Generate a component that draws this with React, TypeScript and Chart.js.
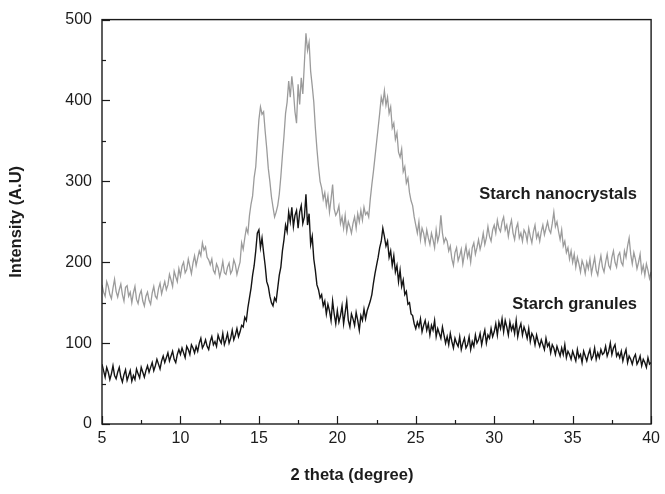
import { useEffect, useRef } from "react";
import { Chart, registerables } from "chart.js";

Chart.register(...registerables);

// 2-theta scan: start angle and step (degrees)
const twoThetaStart = 5;
const twoThetaStep = 0.1;

// Intensity of starch nanocrystals (grey trace), 5.0 .. 40.0 deg
const nanocrystals = [
  172, 163, 158, 176, 170, 160, 155, 168, 179, 164,
  157, 166, 173, 160, 152, 169, 171, 158, 163, 150,
  162, 170, 154, 149, 160, 165, 152, 146, 158, 163,
  153, 148, 162, 170, 158, 155, 167, 174, 161, 169,
  176, 166, 172, 185, 178, 170, 189, 182, 176, 192,
  183, 195, 200, 187, 191, 204, 195, 186, 199, 208,
  196, 205, 214, 208, 224, 215, 219, 206, 203, 197,
  204, 190, 186, 198, 193, 182, 190, 201, 187, 185,
  194, 199, 186, 190, 203, 197, 185, 193, 200, 224,
  216, 230, 242, 236, 258, 272, 282, 305, 318, 348,
  376, 392, 383, 386, 362, 341, 316, 300, 281, 268,
  256, 262, 270, 284, 306, 332, 356, 384, 398, 424,
  404, 430, 412, 386, 372, 420, 395, 428, 408, 446,
  483, 462, 472, 436, 418, 398, 366, 340, 318, 300,
  292, 278, 286, 270, 282, 262, 278, 296, 266, 258,
  262, 270, 248, 256, 242, 258, 238, 250, 244, 236,
  248, 256, 242, 260, 250, 264, 252, 268, 259, 262,
  256, 278, 296, 312, 330, 348, 366, 384, 404, 396,
  412, 394, 404, 384, 392, 366, 372, 352, 360, 336,
  330, 340, 312, 318, 298, 304, 286, 276, 270, 256,
  246, 236, 250, 228, 242, 236, 224, 240, 230, 222,
  236, 228, 218, 240, 226, 234, 258, 236, 224, 230,
  226, 214, 220, 204, 196, 212, 218, 202, 208, 216,
  198, 210, 220, 206, 214, 200, 218, 224, 210, 218,
  228, 216, 224, 236, 222, 230, 244, 232, 226, 240,
  246, 236, 252, 242, 238, 250, 256, 240, 246, 232,
  244, 252, 236, 228, 242, 248, 230, 236, 226, 240,
  236, 226, 242, 232, 224, 238, 246, 230, 236, 226,
  238, 246, 234, 242, 250, 240, 236, 248, 262, 244,
  250, 238, 228, 240, 220, 226, 212, 218, 204, 214,
  200, 210, 194, 206, 198, 188, 202, 196, 186, 200,
  192, 204, 186, 196, 206, 190, 184, 198, 208, 194,
  188, 200, 210, 196, 192, 206, 214, 200, 194, 208,
  212, 200, 196, 214, 206, 220, 230, 210, 198, 212,
  204, 192, 200, 210, 188, 196, 184, 198, 190, 180,
  188,
];

// Intensity of starch granules (black trace), 5.0 .. 40.0 deg
const granules = [
  74, 66, 58, 70, 64, 55, 62, 72, 60, 56,
  64, 70, 58, 52, 61, 67, 54, 60, 66, 53,
  60, 55, 68, 62, 57, 70, 64, 58, 66, 72,
  64, 70, 76, 66, 72, 80, 74, 68, 78, 84,
  76, 82, 88, 78, 84, 90, 80, 76, 86, 92,
  86, 94, 88, 82, 96, 92, 86, 98, 94, 88,
  96, 90, 100, 106, 94, 98, 104, 96, 92, 102,
  108, 98, 102, 96, 110, 104, 100, 112, 98, 104,
  112, 100, 106, 116, 104, 110, 118, 108, 114, 122,
  120, 132, 128, 144, 156, 168, 184, 196, 214, 236,
  240, 218, 230, 212, 196, 176, 170, 158, 150, 146,
  156, 152, 168, 184, 194, 214, 228, 246, 238, 262,
  250, 268, 244, 258, 264, 242, 262, 270, 248, 256,
  284, 246, 260, 222, 232, 204, 190, 172, 166, 156,
  160, 146, 152, 136, 148, 140, 128, 152, 136, 124,
  140, 126, 134, 146, 124, 138, 152, 128, 120, 136,
  130, 122, 138, 128, 116, 134, 128, 142, 130, 140,
  146, 152, 160, 174, 186, 196, 206, 218, 226, 242,
  232, 220, 226, 206, 214, 196, 208, 188, 196, 176,
  190, 170, 178, 160, 164, 148, 150, 136, 134, 124,
  118, 126, 120, 130, 114, 122, 128, 116, 124, 110,
  122, 116, 128, 108, 118, 112, 106, 120, 110, 100,
  108, 98, 112, 102, 94, 106, 100, 96, 108, 92,
  100, 106, 94, 98, 108, 92, 102, 96, 110, 100,
  104, 112, 98, 108, 116, 100, 110, 106, 118, 108,
  114, 124, 110, 126, 118, 130, 114, 128, 120, 110,
  126, 116, 122, 112, 128, 108, 118, 124, 110, 120,
  114, 106, 118, 102, 112, 108, 98, 110, 102, 96,
  104, 98, 92, 106, 96, 100, 88, 98, 94, 86,
  96, 90, 84, 94, 86, 98, 82, 90, 86, 80,
  90, 84, 78, 92, 82, 86, 76, 90, 84, 78,
  86, 92, 80, 84, 94, 80, 88, 82, 92, 86,
  88, 96, 84, 90, 100, 86, 94, 98, 84, 88,
  82, 90, 78, 86, 92, 76, 84, 80, 74, 82,
  86, 74, 78, 84, 72, 80, 76, 70, 82, 74,
  76,
];

const seriesNames = ["Starch nanocrystals", "Starch granules"];
// label anchor (right end) in data coordinates
const labelAnchorsX = [39.1, 39.1];
const labelAnchorsY = [284, 148];

const xAxisTitle = "2 theta (degree)";
const yAxisTitle = "Intensity (A.U)";
const xRange = [5, 40];
const yRange = [0, 500];
const xMajorStep = 5;
const yMajorStep = 100;

const FONT = "'Liberation Sans', Arial, Helvetica, sans-serif";
const TEXT = "#1c1c1c";

export default function App() {
  const ref = useRef<HTMLCanvasElement>(null);

  useEffect(() => {
    document.body.style.margin = "0";
    const toPoints = (arr: number[]) =>
      arr.map((v, i) => ({ x: Math.round((twoThetaStart + i * twoThetaStep) * 100) / 100, y: v }));

    const framePlugin = {
      id: "frameTicks",
      afterDatasetsDraw(chart: any) {
        const { ctx, chartArea: a, scales } = chart;
        const xs = scales.x;
        const ys = scales.y;
        ctx.save();
        ctx.strokeStyle = "#1a1a1a";
        ctx.lineWidth = 1.4;
        ctx.strokeRect(a.left, a.top, a.right - a.left, a.bottom - a.top);
        ctx.lineWidth = 1.2;
        // x ticks (major + minor), inward
        const xHalf = xMajorStep / 2;
        const nx = Math.round((xRange[1] - xRange[0]) / xHalf);
        for (let i = 0; i <= nx; i++) {
          const v = xRange[0] + i * xHalf;
          const px = Math.round(xs.getPixelForValue(v)) + 0.5;
          const len = i % 2 === 0 ? 8 : 4;
          ctx.beginPath();
          ctx.moveTo(px, a.bottom);
          ctx.lineTo(px, a.bottom - len);
          ctx.stroke();
        }
        const yHalf = yMajorStep / 2;
        const ny = Math.round((yRange[1] - yRange[0]) / yHalf);
        for (let i = 0; i <= ny; i++) {
          const v = yRange[0] + i * yHalf;
          const py = Math.round(ys.getPixelForValue(v)) + 0.5;
          const len = i % 2 === 0 ? 8 : 4;
          ctx.beginPath();
          ctx.moveTo(a.left, py);
          ctx.lineTo(a.left + len, py);
          ctx.stroke();
        }
        ctx.fillStyle = TEXT;
        // series labels
        ctx.font = `bold 16.5px ${FONT}`;
        ctx.textAlign = "right";
        ctx.textBaseline = "middle";
        seriesNames.forEach((name, i) => {
          ctx.fillText(name, xs.getPixelForValue(labelAnchorsX[i]), ys.getPixelForValue(labelAnchorsY[i]));
        });
        // x axis title
        ctx.textAlign = "center";
        ctx.fillText(xAxisTitle, 352, 475);
        ctx.restore();
      },
    };

    const chart = new Chart(ref.current as HTMLCanvasElement, {
      type: "line",
      data: {
        datasets: [
          {
            label: seriesNames[0],
            data: toPoints(nanocrystals),
            borderColor: "#9b9b9b",
            borderWidth: 1.3,
            pointRadius: 0,
            fill: false,
            tension: 0,
          },
          {
            label: seriesNames[1],
            data: toPoints(granules),
            borderColor: "#141414",
            borderWidth: 1.4,
            pointRadius: 0,
            fill: false,
            tension: 0,
          },
        ],
      },
      options: {
        animation: false,
        responsive: false,
        events: [],
        layout: { padding: { top: 16, right: 10, left: 0, bottom: 0 } },
        plugins: { legend: { display: false }, tooltip: { enabled: false } },
        scales: {
          x: {
            type: "linear",
            min: xRange[0],
            max: xRange[1],
            grid: { display: false, drawTicks: false },
            border: { display: false },
            ticks: { stepSize: xMajorStep, padding: 5, color: TEXT, font: { family: FONT, size: 16 } },
            title: { display: false },
            afterFit: (s: any) => {
              s.height = 70;
            },
          },
          y: {
            type: "linear",
            min: yRange[0],
            max: yRange[1],
            grid: { display: false, drawTicks: false },
            border: { display: false },
            ticks: { stepSize: yMajorStep, padding: 10, color: TEXT, font: { family: FONT, size: 16 } },
            title: {
              display: true,
              text: yAxisTitle,
              color: TEXT,
              font: { family: FONT, size: 16.5, weight: "bold" },
              padding: { top: 7, bottom: 0 },
            },
            afterFit: (s: any) => {
              s.width = 102;
            },
          },
        },
      },
      plugins: [framePlugin],
    });
    return () => chart.destroy();
  }, []);

  return <canvas ref={ref} width={665} height={494} style={{ display: "block" }} />;
}
